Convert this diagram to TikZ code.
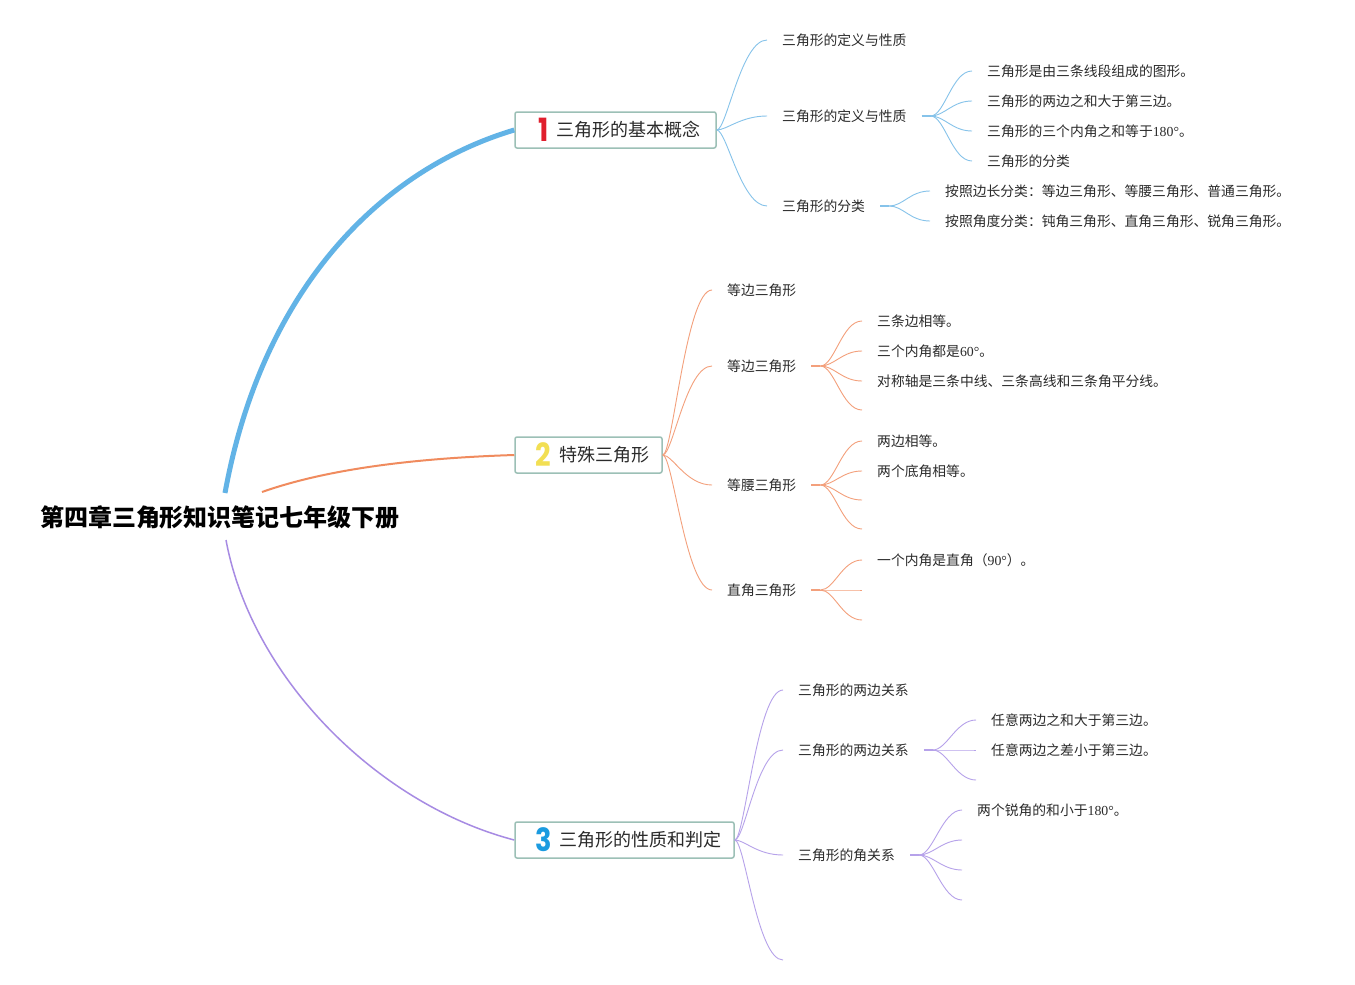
\documentclass[tikz,border=0pt]{standalone}
\usepackage{fontspec}
\setmainfont{Liberation Serif}
\newfontfamily\cjk{Noto Sans CJK SC}
\newfontfamily\numf{Liberation Serif}
\newfontfamily\digf{Poppins}
\definecolor{cblue}{HTML}{62B3E6}
\definecolor{cblueL}{HTML}{86C3EA}
\definecolor{corange}{HTML}{F08B5E}
\definecolor{corangeL}{HTML}{F3A07C}
\definecolor{cpurple}{HTML}{A78BE3}
\definecolor{cpurpleL}{HTML}{B6A2EA}
\definecolor{boxb}{HTML}{9CC0B6}
\definecolor{nred}{HTML}{E01F2D}
\definecolor{nyel}{HTML}{F2DF53}
\definecolor{nblue}{HTML}{1B9BE0}
\definecolor{txt}{HTML}{2B2B2B}
\newcommand{\bignum}[2]{\smash{\raisebox{-4.5pt}{\textcolor{#1}{\scalebox{0.85}[1]{\digf\bfseries\fontsize{32}{32}\selectfont #2}}}}}
\begin{document}
\begin{tikzpicture}[x=1pt,y=-1pt,
  lbl/.style={font=\cjk\fontsize{13.8}{16}\selectfont, anchor=west, inner xsep=15, inner ysep=2, text=txt},
  topbox/.style={draw=boxb, line width=1.5, fill=white, rounded corners=2, minimum height=36, inner xsep=0, inner ysep=0, font=\cjk\fontsize{18}{22}\selectfont, text=txt},
  lb/.style={cblueL, line width=0.9},
  lo/.style={corangeL, line width=0.9},
  lp/.style={cpurpleL, line width=0.9},
  stub/.style={line width=2.2},
  fan/.style={to path={.. controls ([xshift=10]\tikztostart) and ([xshift=-26]\tikztotarget) .. (\tikztotarget)}},
  fan3/.style={to path={.. controls ([xshift=14]\tikztostart) and ([xshift=-20]\tikztotarget) .. (\tikztotarget)}}]
\useasboundingbox (0,0) rectangle (1355,985);
\fill[white] (0,0) rectangle (1355,985);

% root
\node[font=\cjk\bfseries\fontsize{24}{28}\selectfont, text=black] (root) at (220,517) {第四章三角形知识笔记七年级下册};
\coordinate (r1) at (225,493);
\coordinate (r2) at (262,492);
\coordinate (r3) at (226,540);

% top boxes
\node[topbox, minimum width=201] (b1) at (615.5,130) {\hspace*{8pt}\bignum{nred}{1}\hspace{8pt}三角形的基本概念};
\node[topbox, minimum width=147] (b2) at (588.5,455) {\hspace*{8pt}\bignum{nyel}{2}\hspace{8pt}特殊三角形};
\node[topbox, minimum width=219] (b3) at (624.5,840) {\hspace*{8pt}\bignum{nblue}{3}\hspace{8pt}三角形的性质和判定};

\draw[cblue, line width=5] (r1) .. controls (262,290) and (380,170) .. (b1.west);
\draw[corange, line width=2] (r2) .. controls (330,468) and (420,458) .. (b2.west);
\draw[cpurple, line width=1.5] (r3) .. controls (252,680) and (380,805) .. (b3.west);

% ---------- branch 1 ----------
\node[lbl] (t11) at (767,40) {三角形的定义与性质};
\node[lbl] (t12) at (767,116) {三角形的定义与性质};
\node[lbl] (t13) at (767,206) {三角形的分类};
\foreach \t in {t11,t12,t13} \draw[lb] (b1.east) to[fan] (\t.west);

\node[lbl] (t121) at (972,71) {三角形是由三条线段组成的图形。};
\node[lbl] (t122) at (972,101) {三角形的两边之和大于第三边。};
\node[lbl] (t123) at (972,131) {三角形的三个内角之和等于{\numf 180°}。};
\node[lbl] (t124) at (972,161) {三角形的分类};
\coordinate (h12) at ([xshift=9]t12.east);
\draw[cblueL, stub] (t12.east) -- (h12);
\foreach \t in {t121,t122,t123,t124} \draw[lb] (h12) to[fan3] (\t.west);

\node[lbl] (t131) at (930,191) {按照边长分类：等边三角形、等腰三角形、普通三角形。};
\node[lbl] (t132) at (930,221) {按照角度分类：钝角三角形、直角三角形、锐角三角形。};
\coordinate (h13) at ([xshift=9]t13.east);
\draw[cblueL, stub] (t13.east) -- (h13);
\foreach \t in {t131,t132} \draw[lb] (h13) to[fan3] (\t.west);

% ---------- branch 2 ----------
\node[lbl] (t21) at (712,290) {等边三角形};
\node[lbl] (t22) at (712,366) {等边三角形};
\node[lbl] (t23) at (712,485) {等腰三角形};
\node[lbl] (t24) at (712,590) {直角三角形};
\foreach \t in {t21,t22,t23,t24} \draw[lo] (b2.east) to[fan] (\t.west);

\node[lbl] (t221) at (862,321) {三条边相等。};
\node[lbl] (t222) at (862,351) {三个内角都是{\numf 60°}。};
\node[lbl] (t223) at (862,381) {对称轴是三条中线、三条高线和三条角平分线。};
\coordinate (e224) at (862,410);
\coordinate (h22) at ([xshift=9]t22.east);
\draw[corangeL, stub] (t22.east) -- (h22);
\foreach \t in {t221.west,t222.west,t223.west,e224} \draw[lo] (h22) to[fan3] (\t);

\node[lbl] (t231) at (862,441) {两边相等。};
\node[lbl] (t232) at (862,471) {两个底角相等。};
\coordinate (e233) at (862,500);
\coordinate (e234) at (862,529);
\coordinate (h23) at ([xshift=9]t23.east);
\draw[corangeL, stub] (t23.east) -- (h23);
\foreach \t in {t231.west,t232.west,e233,e234} \draw[lo] (h23) to[fan3] (\t);

\node[lbl] (t241) at (862,560) {一个内角是直角（{\numf 90°}）。};
\coordinate (e242) at (862,590);
\coordinate (e243) at (862,620);
\coordinate (h24) at ([xshift=9]t24.east);
\draw[corangeL, stub] (t24.east) -- (h24);
\foreach \t in {t241.west,e242,e243} \draw[lo] (h24) to[fan3] (\t);

% ---------- branch 3 ----------
\node[lbl] (t31) at (783,690) {三角形的两边关系};
\node[lbl] (t32) at (783,750) {三角形的两边关系};
\node[lbl] (t33) at (783,855) {三角形的角关系};
\coordinate (e34) at (783,960);
\foreach \t in {t31.west,t32.west,t33.west,e34} \draw[lp] (b3.east) to[fan] (\t);

\node[lbl] (t321) at (976,720) {任意两边之和大于第三边。};
\node[lbl] (t322) at (976,750) {任意两边之差小于第三边。};
\coordinate (e323) at (976,780);
\coordinate (h32) at ([xshift=9]t32.east);
\draw[cpurpleL, stub] (t32.east) -- (h32);
\foreach \t in {t321.west,t322.west,e323} \draw[lp] (h32) to[fan3] (\t);

\node[lbl] (t331) at (962,810) {两个锐角的和小于{\numf 180°}。};
\coordinate (e332) at (962,840);
\coordinate (e333) at (962,870);
\coordinate (e334) at (962,900);
\coordinate (h33) at ([xshift=9]t33.east);
\draw[cpurpleL, stub] (t33.east) -- (h33);
\foreach \t in {t331.west,e332,e333,e334} \draw[lp] (h33) to[fan3] (\t);
\end{tikzpicture}
\end{document}
